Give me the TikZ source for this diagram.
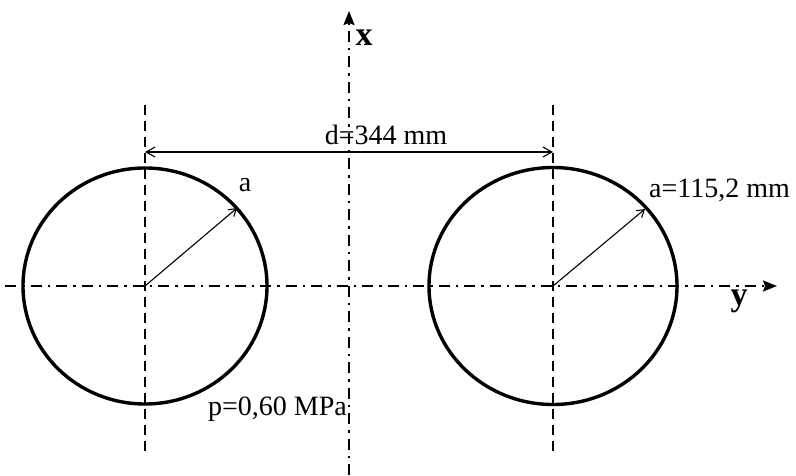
\documentclass[tikz,border=0pt]{standalone}
\usepackage{fontspec}
\setmainfont{Liberation Serif}
\usetikzlibrary{arrows.meta}
\tikzset{
  axisline/.style={line width=2pt, dash pattern=on 11pt off 6pt on 2.5pt off 6pt, -{Stealth[length=14pt,width=11pt,inset=2pt]}},
  centerline/.style={line width=2pt, dash pattern=on 10pt off 6pt},
  tube/.style={line width=3.4pt},
  radarrow/.style={line width=1.1pt, -{Straight Barb[length=7pt,width=9pt]}},
  dimarrow/.style={line width=1.1pt, {Straight Barb[length=9pt,width=10pt]}-{Straight Barb[length=9pt,width=10pt]}},
  lbl/.style={inner sep=0pt, font=\fontsize{28}{30}\selectfont},
  axlbl/.style={inner sep=0pt, font=\fontsize{34}{36}\selectfont\bfseries}
}
\begin{document}
\begin{tikzpicture}[x=1pt,y=-1pt]
\useasboundingbox (0,0) rectangle (796,475);
\fill[white] (0,0) rectangle (796,475);
% centres
\coordinate (cL) at (145,286);
\coordinate (cR) at (553,286);
% axes ends
\coordinate (yS) at (5,286);
\coordinate (yE) at (777,286);
\coordinate (xS) at (349,475);
\coordinate (xE) at (349,11);
% centre lines ends
\coordinate (lT) at (145,105);
\coordinate (lB) at (145,455);
\coordinate (rT) at (553,105);
\coordinate (rB) at (553,455);
% dimension ends
\coordinate (dL) at (145,152);
\coordinate (dR) at (553,152);
% radius tips
\coordinate (tL) at (237,208);
\coordinate (tR) at (645,209);

\draw[axisline] (yS) -- (yE);
\draw[axisline] (xS) -- (xE);
\draw[centerline] (lT) -- (lB);
\draw[centerline] (rT) -- (rB);
\draw[tube] (cL) ellipse [x radius=122, y radius=118];
\draw[tube] (cR) ellipse [x radius=124, y radius=118.5];
\draw[radarrow] (cL) -- (tL);
\draw[radarrow] (cR) -- (tR);
\draw[dimarrow] (dL) -- (dR);

\node[lbl] (dlab) at (386,135) {d=344 mm};
\node[lbl] (alab) at (245,185) {a};
\node[lbl, anchor=west] (arlab) at (649,190) {a=115,2 mm};
\node[lbl, anchor=west] (plab) at (208,409) {p=0,60 MPa};
\node[axlbl] (xlab) at (364,38) {x};
\node[axlbl] (ylab) at (739,301) {y};
\end{tikzpicture}
\end{document}
